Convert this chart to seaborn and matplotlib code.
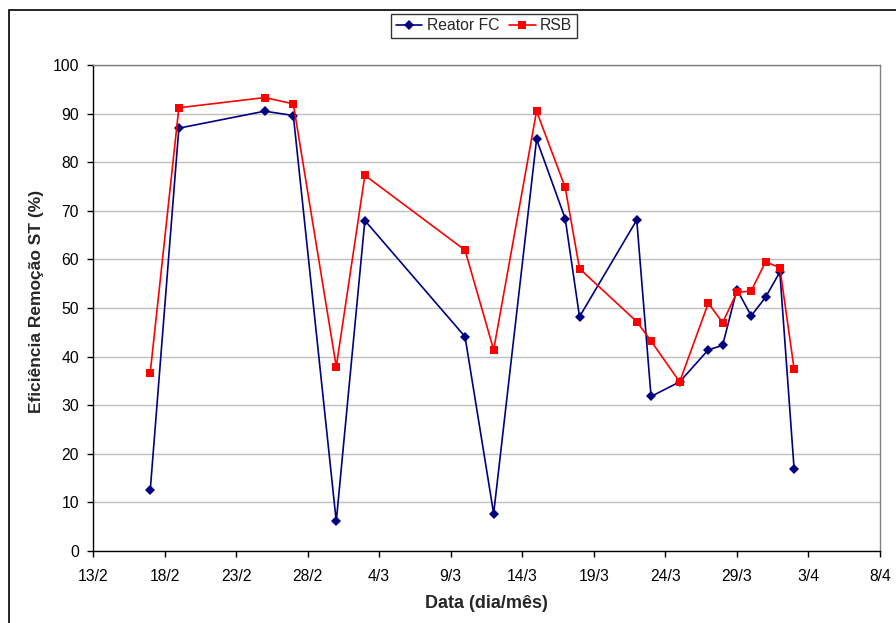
import matplotlib
matplotlib.use("Agg")
import matplotlib.pyplot as plt
import matplotlib.dates as mdates
import matplotlib.patches as mpatches
from matplotlib.ticker import MultipleLocator
from matplotlib.lines import Line2D
import pandas as pd
import seaborn as sns

# ---- data ----
dates = ["17/2", "19/2", "25/2", "27/2", "1/3", "3/3", "10/3", "12/3", "15/3", "17/3",
         "18/3", "22/3", "23/3", "25/3", "27/3", "28/3", "29/3", "30/3", "31/3", "1/4", "2/4"]
reator_fc = [12.5, 87.0, 90.5, 89.6, 6.1, 68.0, 44.1, 7.7, 84.7, 68.4,
             48.2, 68.1, 31.8, 34.8, 41.4, 42.3, 53.8, 48.4, 52.2, 57.4, 16.8]
rsb = [36.7, 91.2, 93.3, 92.0, 37.9, 77.3, 61.9, 41.4, 90.5, 74.8,
       58.1, 47.2, 43.2, 34.8, 51.0, 47.0, 53.2, 53.5, 59.5, 58.3, 37.4]
series_names = ["Reator FC", "RSB"]
tick_labels = ["13/2", "18/2", "23/2", "28/2", "4/3", "9/3", "14/3", "19/3",
               "24/3", "29/3", "3/4", "8/4"]
year = 2008

def to_date(s):
    d, m = s.split("/")
    return pd.Timestamp(year=year, month=int(m), day=int(d))

x = [to_date(s) for s in dates]
df = pd.DataFrame({
    "Data": x * 2,
    "valor": reator_fc + rsb,
    "serie": [series_names[0]] * len(x) + [series_names[1]] * len(x),
})

sns.set_theme(style="white")
plt.rcParams["font.family"] = ["Liberation Sans", "DejaVu Sans"]

W, H = 896, 623
fig = plt.figure(figsize=(W / 100, H / 100), dpi=100)
ax = fig.add_axes([93 / W, 1 - 551 / H, (880 - 93) / W, (551 - 65) / H])

palette = {series_names[0]: "#000080", series_names[1]: "#FF0000"}
markers = {series_names[0]: "D", series_names[1]: "s"}
sns.lineplot(data=df, x="Data", y="valor", hue="serie", style="serie",
             palette=palette, markers=markers, dashes=False, ax=ax,
             linewidth=1.2, markeredgewidth=0, legend=False, sort=False)
for line in ax.lines:
    if line.get_marker() == "D":
        line.set_markersize(5)
    else:
        line.set_markersize(6)

ax.set_ylim(0, 100)
ax.yaxis.set_major_locator(MultipleLocator(10))
ax.set_xlim(mdates.date2num(to_date(tick_labels[0])), mdates.date2num(to_date(tick_labels[-1])))
ax.set_xticks([mdates.date2num(to_date(t)) for t in tick_labels])
ax.set_xticklabels(tick_labels)

ax.grid(axis="y", color="#c0c0c0", linewidth=1.0)
ax.set_axisbelow(True)
for s in ["left", "bottom"]:
    ax.spines[s].set_color("black")
    ax.spines[s].set_linewidth(1.0)
for s in ["top", "right"]:
    ax.spines[s].set_color("#808080")
    ax.spines[s].set_linewidth(1.0)

ax.tick_params(axis="both", which="major", direction="out", length=4, width=1,
               color="black", labelsize=11.3, labelcolor="black",
               left=True, bottom=True)
ax.tick_params(axis="x", pad=9)
ax.tick_params(axis="y", pad=6)
ax.set_xlabel("Data (dia/mês)", fontsize=13, fontweight="bold", labelpad=8)
ax.set_ylabel("Eficiência Remoção ST (%)", fontsize=12.5, fontweight="bold", labelpad=10)
ax.yaxis.set_label_coords(-0.0625, 0.514)

# legend
handles = [Line2D([], [], color="#000080", marker="D", markersize=5, markeredgewidth=0, linewidth=1.2),
           Line2D([], [], color="#FF0000", marker="s", markersize=6, markeredgewidth=0, linewidth=1.2)]
leg = fig.legend(handles, series_names, loc="center", bbox_to_anchor=(484 / W, 1 - 26 / H),
                 ncol=2, frameon=True, fancybox=False, edgecolor="black", fontsize=11.3,
                 handlelength=1.7, handletextpad=0.3, columnspacing=0.6,
                 borderpad=0.3, borderaxespad=0)
leg.get_frame().set_linewidth(1.0)

# outer frame
frame = mpatches.Rectangle((9 / W, -0.1), 1.2, 1 - 10 / H + 0.1, transform=fig.transFigure,
                           fill=False, edgecolor="black", linewidth=1.2)
fig.patches.append(frame)

fig.savefig("out.png", dpi=100)
